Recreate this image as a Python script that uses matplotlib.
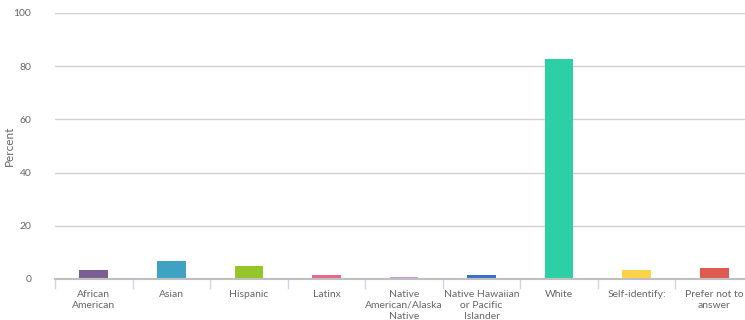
import matplotlib.pyplot as plt
import numpy as np

categories = ["African\nAmerican", "Asian", "Hispanic", "Latinx",
              "Native\nAmerican/Alaska\nNative", "Native Hawaiian\nor Pacific\nIslander",
              "White", "Self-identify:", "Prefer not to\nanswer"]
values = [3.4, 6.8, 4.9, 1.5, 0.8, 1.5, 82.7, 3.4, 4.1]
colors = ["#7b5e93", "#3fa2c3", "#95c52a", "#e8678a", "#c59be0",
          "#3b6fcf", "#2dd0a5", "#fdd34a", "#df5a50"]
yticks = [0, 20, 40, 60, 80, 100]

plt.rcParams['font.family'] = ['Lato', 'DejaVu Sans']

fig = plt.figure(figsize=(7.45, 3.2), dpi=100)
ax = fig.add_axes([55 / 745, 1 - 279 / 320, (753 - 55) / 745, (279 - 13) / 320])

x = np.arange(len(categories))
ax.bar(x, values, width=0.37, color=colors, zorder=3)

ax.set_xlim(-0.5, len(categories) - 0.5)
ax.set_ylim(0, 100)
ax.set_yticks(yticks)
ax.set_yticklabels([str(t) for t in yticks], color="#666666", fontsize=7.5)
ax.tick_params(axis="y", length=0, pad=17)
ax.grid(axis="y", color="#d0d0d0", linewidth=1, zorder=0)

ax.set_xticks(x)
ax.set_xticklabels(categories, color="#666666", fontsize=7.5, linespacing=1.25)
ax.tick_params(axis="x", length=0, pad=8)
ax.set_xticks(np.arange(len(categories) + 1) - 0.5, minor=True)
ax.tick_params(axis="x", which="minor", length=7, color="#ccd6eb", width=1)

for s in ["top", "right", "left"]:
    ax.spines[s].set_visible(False)
ax.spines["bottom"].set_color("#c0c0c0")
ax.spines["bottom"].set_linewidth(1.5)
ax.spines["bottom"].set_zorder(4)

ax.set_ylabel("Percent", color="#666666", fontsize=8.5)
ax.yaxis.set_label_coords(-40 / 698, 0.5)

fig.savefig("out.png", dpi=100)
